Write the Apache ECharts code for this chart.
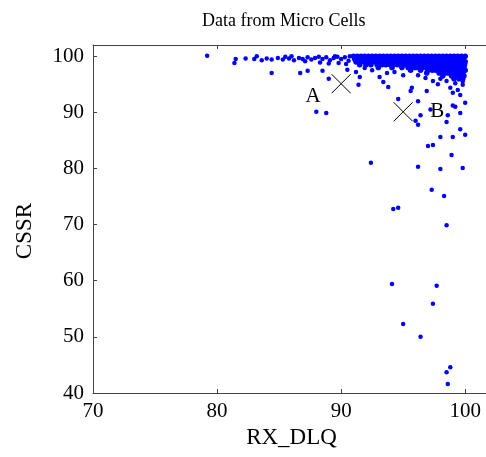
<!DOCTYPE html>
<html><head><meta charset="utf-8">
<script src="https://cdn.jsdelivr.net/npm/echarts@6/dist/echarts.min.js"></script>
<style>html,body{margin:0;padding:0;background:#fff}#c{width:486px;height:457px}</style>
</head><body><div id="c"></div>
<script>
// Dense band rows: y value of each row and the x values read along it
const denseRowY = [100.0, 99.5, 99.0, 98.5, 98.0, 97.5, 97.0, 96.5, 96.0];
const denseRowX = [
  [91.0,91.3,91.6,91.9,92.2,92.5,92.8,93.1,93.4,93.7,94.0,94.3,94.6,94.9,95.2,95.5,95.8,96.1,96.4,96.7,97.0,97.3,97.6,97.9,98.2,98.5,98.8,99.1,99.4,99.7,100.0],
  [91.1,91.45,91.75,92.05,92.35,92.65,92.95,93.25,93.55,93.85,94.15,94.45,94.75,95.05,95.35,95.65,95.95,96.25,96.55,96.85,97.15,97.45,97.75,98.05,98.35,98.65,98.95,99.25,99.55,99.85],
  [91.2,91.6,91.9,92.2,92.5,92.8,93.1,93.4,93.7,94.0,94.3,94.6,94.9,95.2,95.5,95.8,96.1,96.4,96.7,97.0,97.3,97.6,97.9,98.2,98.5,98.8,99.1,99.4,99.7,100.0],
  [91.5,92.0,92.4,92.9,93.3,93.6,93.95,94.25,94.55,94.85,95.15,95.45,95.75,96.05,96.35,96.65,96.95,97.25,97.55,97.85,98.15,98.45,98.75,99.05,99.35,99.65,99.95],
  [93.0,94.1,94.9,95.4,95.7,96.0,96.3,96.6,96.9,97.2,97.5,97.8,98.1,98.4,98.7,99.0,99.3,99.6,99.9],
  [95.6,96.4,97.0,97.35,97.65,97.95,98.25,98.55,98.85,99.15,99.45,99.75,100.0],
  [96.9,97.9,98.3,98.6,98.9,99.2,99.5,99.8],
  [98.2,98.9,99.3,99.6,99.9],
  [99.1,99.5,99.8]
];
// Sparse band to the left of the dense block, and scattered points
const sparsePoints = [
  [79.2,100.1],[81.5,99.5],[81.4,98.8],[82.3,99.6],[83.0,99.5],[83.2,100.0],[83.6,99.3],[84.0,99.6],[84.4,99.4],
  [84.9,99.7],[85.3,99.4],[85.5,99.9],[85.8,99.6],[86.0,100.0],[86.2,99.3],[86.6,99.7],[86.9,99.5],[87.1,99.1],
  [87.3,99.8],[87.6,99.4],[87.9,99.7],[88.2,99.9],[88.3,98.9],[88.5,99.5],[88.8,99.8],[89.0,98.7],[89.1,99.3],
  [89.4,99.7],[89.7,99.9],[89.8,98.8],[90.0,99.5],[90.3,99.8],[90.4,98.6],[90.6,99.2],[90.7,100.0],[89.5,100.0],
  [84.4,97.0],[86.7,97.0],[87.3,97.4],[88.5,97.4],[89.0,96.0],[88.0,90.1],[88.8,89.9],
  [90.5,97.6],[91.2,97.2],[91.9,97.9],[92.5,97.5],[91.4,94.9],[91.5,96.3],[93.1,96.3],[93.4,95.4],[93.8,94.5],
  [93.7,97.0],[94.3,97.2],[95.0,96.6],[95.7,94.4],[95.6,93.8],[96.9,93.8],[96.2,96.6],[96.8,96.1],[97.4,95.6],
  [98.0,96.0],[97.8,95.0],[98.8,94.4],[99.0,93.5],[99.4,94.0],[99.8,94.9],[99.8,95.5],[99.6,93.1],[99.2,95.2],
  [98.5,95.6],[94.6,92.4],[96.2,92.0],
  [96.4,89.5],[96.2,87.8],[96.0,88.5],[97.2,90.5],[98.6,89.5],[99.0,91.2],[99.2,91.0],[100.0,91.7],[98.5,88.3],
  [99.6,89.9],[98.0,85.6],[99.0,85.6],[99.6,87.0],[100.0,86.0],[97.0,84.0],[97.4,84.2],[98.9,82.4],[92.4,81.0],
  [96.2,80.3],[98.0,79.9],[99.8,80.1],[97.3,76.2],[98.3,75.1],[94.2,72.8],[94.6,73.0],[98.5,69.9],[94.1,59.4],
  [97.7,59.1],[97.4,55.9],[95.0,52.3],[96.4,50.0],[98.8,44.6],[98.5,43.7],[98.6,41.6]
];
// Reference markers
const markerNames = ['A', 'B'];
const markerPoints = [[90.0, 95.1], [95.0, 90.1]];
const xTicks = [70, 80, 90, 100];
const yTicks = [40, 50, 60, 70, 80, 90, 100];

const densePoints = [];
denseRowX.forEach((row, i) => row.forEach(x => densePoints.push([x, denseRowY[i]])));

const font = 'Liberation Serif';
const axisLine = {show: true, lineStyle: {color: '#444', width: 1}};
const tick = {show: true, inside: true, length: 4, lineStyle: {color: '#444'}};

const chart = echarts.init(document.getElementById('c'), null, {renderer: 'canvas'});
chart.setOption({
  backgroundColor: '#fff',
  animation: false,
  title: {text: 'Data from Micro Cells', left: 197, top: 7,
    textStyle: {fontFamily: font, fontSize: 18, fontWeight: 'normal', color: '#000'}},
  grid: {left: 93, top: 45, height: 348, width: 397, containLabel: false, outerBoundsMode: 'none'},
  xAxis: [{
    type: 'value', min: 70, max: 102, interval: 10,
    name: 'RX_DLQ', nameLocation: 'middle', nameGap: 33,
    nameTextStyle: {fontFamily: font, fontSize: 23, color: '#000'},
    axisLine: axisLine, axisTick: tick, splitLine: {show: false},
    axisLabel: {fontFamily: font, fontSize: 21, color: '#000', margin: 8,
      formatter: v => xTicks.includes(v) ? String(v) : ''}
  }, {
    type: 'value', min: 70, max: 102, interval: 10, position: 'top',
    axisLine: axisLine, axisTick: tick, axisLabel: {show: false}, splitLine: {show: false}
  }],
  yAxis: [{
    type: 'value', min: 40, max: 102, interval: 10,
    name: 'CSSR', nameLocation: 'middle', nameGap: 57, nameRotate: 90,
    nameTextStyle: {fontFamily: font, fontSize: 23, color: '#000', padding: [0, 24, 0, 0]},
    axisLine: axisLine, axisTick: tick, splitLine: {show: false},
    axisLabel: {fontFamily: font, fontSize: 21, color: '#000', margin: 9,
      formatter: v => yTicks.includes(v) ? String(v) : ''}
  }, {
    type: 'value', min: 40, max: 102, interval: 10, position: 'right',
    axisLine: axisLine, axisTick: tick, axisLabel: {show: false}, splitLine: {show: false}
  }],
  series: [{
    type: 'scatter', data: densePoints, symbol: 'circle', symbolSize: 5.6,
    itemStyle: {color: '#0000ff', opacity: 1}, silent: true
  }, {
    type: 'scatter', data: sparsePoints, symbol: 'circle', symbolSize: 4.5,
    itemStyle: {color: '#0000ff', opacity: 1}, silent: true
  }, {
    type: 'scatter',
    data: markerPoints.map((p, i) => ({value: p, name: markerNames[i],
      label: {show: true, formatter: markerNames[i], position: 'inside',
        offset: i === 0 ? [-28, 13] : [34, 0],
        fontFamily: font, fontSize: 21, color: '#000'}})),
    symbol: 'path://M0,0L20,20M20,0L0,20', symbolSize: 19,
    itemStyle: {color: 'none', borderColor: '#000', borderWidth: 1, opacity: 1},
    z: 5
  }]
});
</script></body></html>
